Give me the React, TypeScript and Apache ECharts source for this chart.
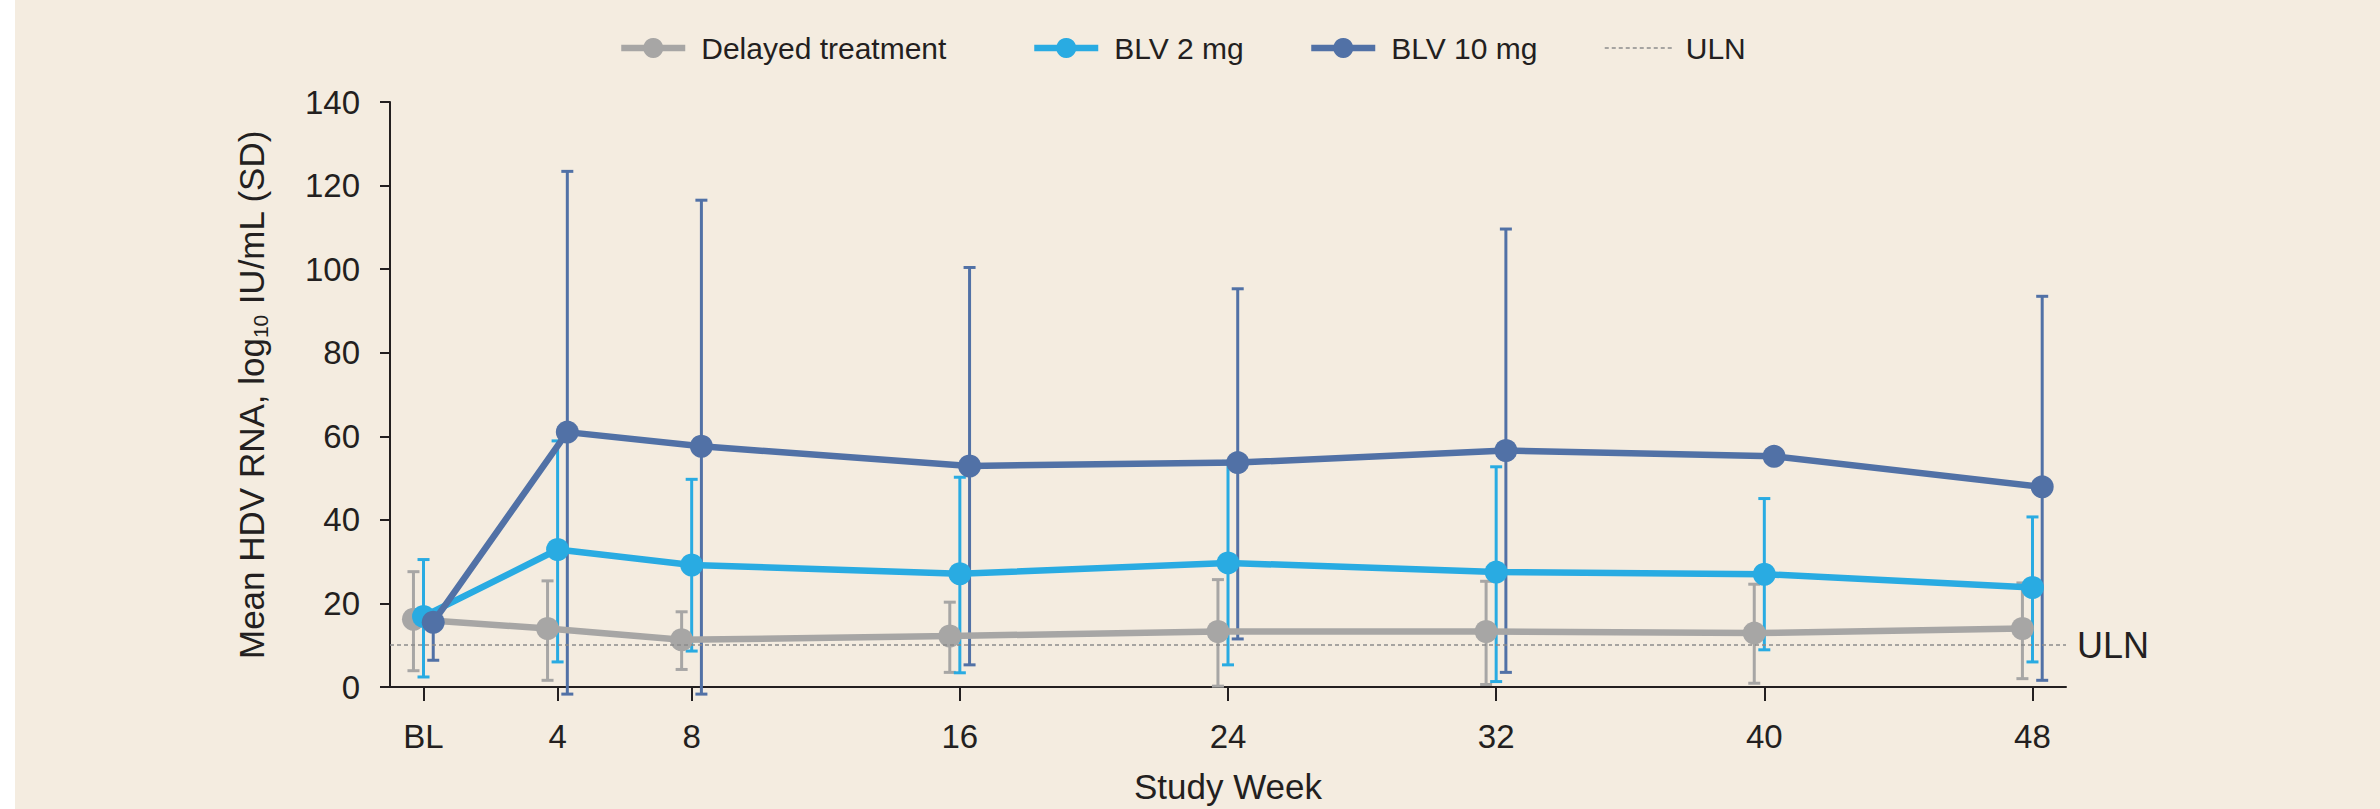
import React, { useEffect, useRef } from "react";
import * as echarts from "echarts";

// ---------- data ----------
const WEEKS = [0, 4, 8, 16, 24, 32, 40, 48];
const WEEK_LABELS = ["BL", "4", "8", "16", "24", "32", "40", "48"];

const DELAYED_MEAN = [16.2, 14.0, 11.3, 12.2, 13.3, 13.3, 12.9, 14.0];
const DELAYED_LOW = [3.9, 1.6, 4.2, 3.5, 0.2, 0.6, 0.9, 2.0];
const DELAYED_HIGH = [27.6, 25.4, 18.0, 20.3, 25.7, 25.3, 24.6, 24.9];

const BLV2_MEAN = [16.9, 32.9, 29.2, 27.1, 29.7, 27.5, 27.0, 23.8];
const BLV2_LOW = [2.4, 6.0, 8.6, 3.4, 5.3, 1.3, 8.9, 6.0];
const BLV2_HIGH = [30.5, 58.9, 49.7, 50.2, 54.0, 52.7, 45.1, 40.7];

const BLV10_MEAN = [15.5, 61.0, 57.6, 52.9, 53.7, 56.6, 55.2, 47.9];
const BLV10_LOW: (number | null)[] = [6.4, -1.7, -1.7, 5.3, 11.5, 3.5, null, 1.6];
const BLV10_HIGH: (number | null)[] = [null, 123.4, 116.5, 100.4, 95.3, 109.6, null, 93.5];

const ULN = 10;

const SERIES_NAMES = ["Delayed treatment", "BLV 2 mg", "BLV 10 mg"];

// ---------- style ----------
const FONT = "'Liberation Sans', Arial, Helvetica, sans-serif";
const TEXT = "#231F20";
const BG = "#F4ECE0";
const COLORS = ["#A7A6A5", "#29ABE2", "#5171A6"];
const X_SHIFT = [-0.3, 0, 0.29]; // horizontal dodge (weeks) so groups do not overlap
const LINE_W = 6.5;
const SYMBOL = 23;
const BAR_W = 3;
const CAP_W = 12;

function errorRenderer(means: number[], lows: (number | null)[], highs: (number | null)[], color: string) {
  return (params: any, api: any) => {
    const i = params.dataIndex;
    const x = api.value(0);
    const pm = api.coord([x, means[i]]);
    const style = { stroke: color, lineWidth: BAR_W };
    const children: any[] = [];
    const add = (v: number | null) => {
      if (v == null) return;
      const p = api.coord([x, v]);
      children.push({ type: "line", shape: { x1: pm[0], y1: pm[1], x2: p[0], y2: p[1] }, style });
      children.push({ type: "line", shape: { x1: p[0] - CAP_W / 2, y1: p[1], x2: p[0] + CAP_W / 2, y2: p[1] }, style });
    };
    add(highs[i]);
    add(lows[i]);
    return { type: "group", children };
  };
}

export default function App() {
  const ref = useRef<HTMLDivElement>(null);

  useEffect(() => {
    document.body.style.margin = "0";
    if (!ref.current) return;
    const chart = echarts.init(ref.current, null, { renderer: "svg" });

    const groups = [
      { mean: DELAYED_MEAN, low: DELAYED_LOW, high: DELAYED_HIGH },
      { mean: BLV2_MEAN, low: BLV2_LOW, high: BLV2_HIGH },
      { mean: BLV10_MEAN, low: BLV10_LOW, high: BLV10_HIGH },
    ];

    const series: any[] = [];
    groups.forEach((g, k) => {
      series.push({
        name: SERIES_NAMES[k] + " SD",
        type: "custom",
        renderItem: errorRenderer(g.mean, g.low, g.high, COLORS[k]),
        encode: { x: 0, y: 1 },
        data: WEEKS.map((w, i) => [w + X_SHIFT[k], g.mean[i]]),
        silent: true,
        clip: false,
      });
      series.push({
        name: SERIES_NAMES[k],
        type: "line",
        data: WEEKS.map((w, i) => [w + X_SHIFT[k], g.mean[i]]),
        symbol: "circle",
        symbolSize: SYMBOL,
        color: COLORS[k],
        lineStyle: { width: LINE_W, color: COLORS[k] },
        itemStyle: { color: COLORS[k] },
        silent: true,
      });
    });

    series.push({
      name: "ULN",
      type: "line",
      data: [],
      color: "#8C8C8C",
      lineStyle: { width: 1.5, type: [4, 3], color: "#8C8C8C" },
      itemStyle: { color: "#8C8C8C" },
      markLine: {
        silent: true,
        symbol: ["none", "none"],
        lineStyle: { color: "#8C8C8C", width: 1.5, type: [4, 3] },
        label: {
          show: true,
          position: "end",
          formatter: "ULN",
          fontSize: 36,
          fontFamily: FONT,
          color: TEXT,
          distance: 11,
        },
        data: [{ yAxis: ULN }],
      },
    });

    const legendText = { fontSize: 30, fontFamily: FONT, color: TEXT, padding: [0, 0, 0, 11] };
    const legendLefts = [598, 1011, 1288];
    const legends: any[] = SERIES_NAMES.map((n, k) => ({
      data: [n],
      left: legendLefts[k],
      top: 28,
      itemWidth: 64,
      itemHeight: 25,
      selectedMode: false,
      lineStyle: { width: LINE_W },
      textStyle: legendText,
    }));
    legends.push({
      data: [{ name: "ULN", itemStyle: { opacity: 0 } }],
      left: 1584,
      top: 28,
      itemWidth: 67,
      itemHeight: 25,
      selectedMode: false,
      lineStyle: { width: 1.5, type: [4, 3] },
      textStyle: { ...legendText, padding: [0, 0, 0, 9] },
    });

    chart.setOption({
      animation: false,
      backgroundColor: BG,
      textStyle: { fontFamily: FONT },
      legend: legends,
      grid: { left: 375, right: 314, top: 102, bottom: 112, containLabel: false },
      xAxis: {
        type: "value",
        min: -1,
        max: 49,
        name: "Study Week",
        nameLocation: "middle",
        nameGap: 82,
        nameTextStyle: { fontSize: 35, color: TEXT, fontFamily: FONT },
        splitLine: { show: false },
        axisLine: { show: true, onZero: false, lineStyle: { color: TEXT, width: 2 } },
        axisTick: { show: true, length: 14, lineStyle: { color: TEXT, width: 2 }, customValues: WEEKS },
        axisLabel: {
          fontSize: 33,
          color: TEXT,
          fontFamily: FONT,
          margin: 33,
          customValues: WEEKS,
          formatter: (v: number) => {
            const i = WEEKS.indexOf(v);
            return i >= 0 ? WEEK_LABELS[i] : "";
          },
        },
      },
      yAxis: {
        type: "value",
        min: 0,
        max: 140,
        interval: 20,
        name: "{a|Mean HDV RNA, log}{s|10}{a| IU/mL (SD)}",
        nameLocation: "middle",
        nameGap: 119,
        nameTextStyle: {
          color: TEXT,
          fontFamily: FONT,
          rich: {
            a: { fontSize: 35, lineHeight: 40, color: TEXT, fontFamily: FONT },
            s: { fontSize: 21, lineHeight: 22, verticalAlign: "bottom", color: TEXT, fontFamily: FONT },
          },
        },
        splitLine: { show: false },
        axisLine: { show: true, onZero: false, lineStyle: { color: TEXT, width: 2 } },
        axisTick: { show: true, length: 10, lineStyle: { color: TEXT, width: 2 } },
        axisLabel: { fontSize: 33, color: TEXT, fontFamily: FONT, margin: 30 },
      },
      series,
    });

    return () => chart.dispose();
  }, []);

  return (
    <div style={{ position: "relative", width: 2380, height: 809, background: "#FFFFFF" }}>
      <div ref={ref} style={{ position: "absolute", left: 15, top: 0, width: 2365, height: 809 }} />
    </div>
  );
}
